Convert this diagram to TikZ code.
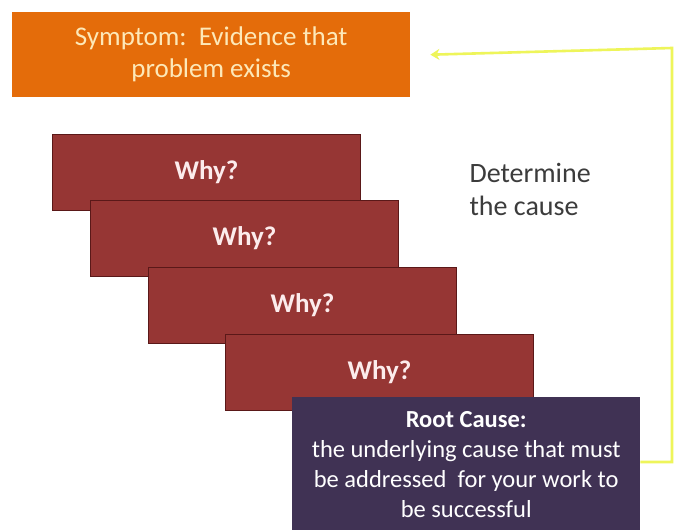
\documentclass[tikz,border=0pt]{standalone}
\usepackage{fontspec}
\setmainfont{Carlito}
\usetikzlibrary{arrows.meta}
\definecolor{sym_orange}{RGB}{228,108,10}
\definecolor{sym_text}{RGB}{253,232,184}
\definecolor{why_red}{RGB}{150,54,52}
\definecolor{why_edge}{RGB}{90,24,24}
\definecolor{why_text}{RGB}{252,236,236}
\definecolor{root_purple}{RGB}{64,50,84}
\definecolor{link_yell}{RGB}{238,245,90}
\definecolor{note_gray}{RGB}{60,60,60}

\begin{document}
\begin{tikzpicture}[x=1pt,y=-1pt]
    \tikzset{box/.style={draw, rectangle, anchor=north west, inner sep=0pt, align=center}}
    \tikzset{symbox/.style={box, draw=none, fill=sym_orange, text=sym_text,
        minimum width=398pt, minimum height=85pt, font=\fontsize{27}{32}\selectfont}}
    \tikzset{whybox/.style={box, fill=why_red, draw=why_edge, line width=1.2pt, text=why_text,
        minimum width=308pt, minimum height=76pt, font=\fontsize{27}{30}\selectfont\bfseries}}
    \tikzset{rootbox/.style={box, draw=none, fill=root_purple, text=white,
        minimum width=348pt, minimum height=134pt, font=\fontsize{24.5}{30}\selectfont}}
    \tikzset{yarrow/.style={draw=link_yell, line width=2.6pt, -{Stealth[length=9pt,width=11pt]}}}

    \useasboundingbox (0,0) rectangle (681,530);
    \fill[white] (0,0) rectangle (681,530);

    \node[symbox] (sym) at (12,12) {Symptom:\ \ Evidence that\\problem exists};

    \node[whybox] (why1) at (52,134)  {Why?};
    \node[whybox] (why2) at (90,200)  {Why?};
    \node[whybox] (why3) at (148,267) {Why?};
    \node[whybox] (why4) at (225,334) {Why?};

    \node[rootbox] (root) at (292,397) {\textbf{Root Cause:}\\the underlying cause that must\\be addressed \ for your work to\\be successful};

    \node[anchor=north west, align=left, text=note_gray, font=\fontsize{28}{33}\selectfont]
        (note) at (466,160) {Determine\\the cause};

    \coordinate (turn) at (672,48);
    \draw[yarrow] (root.east |- 0,462) -| (turn) -- ([xshift=20pt]sym.east);
\end{tikzpicture}
\end{document}
